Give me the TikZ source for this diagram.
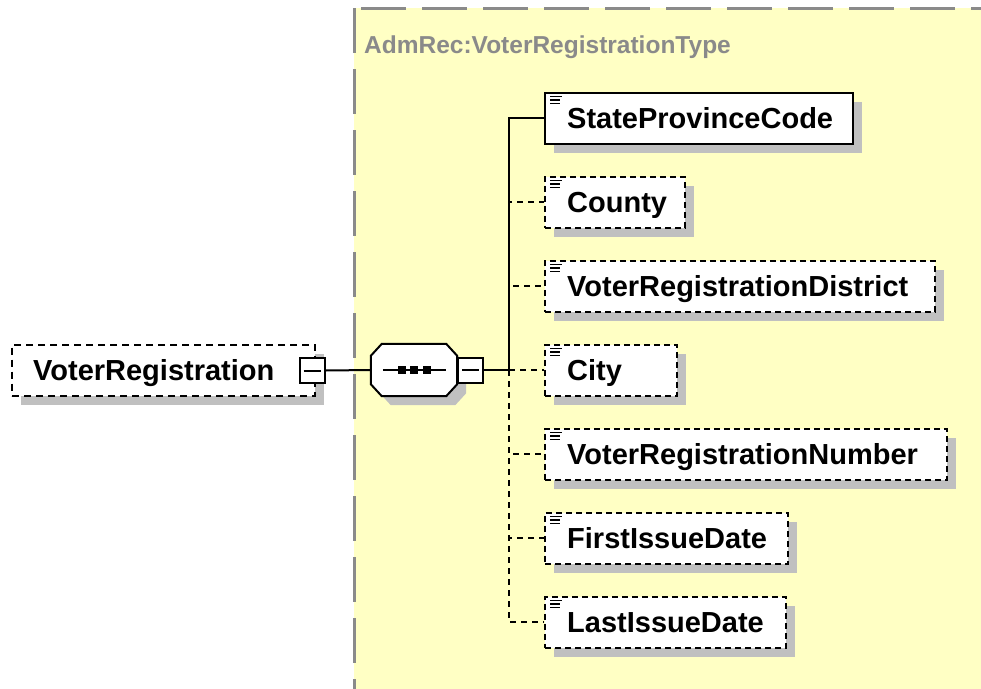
\documentclass[tikz,border=0pt]{standalone}
\usepackage{fontspec}
\setmainfont{Liberation Sans}
\usetikzlibrary{shadows}
\definecolor{bgyellow}{RGB}{255,255,196}
\definecolor{framegray}{RGB}{138,138,138}
\definecolor{shadowgray}{RGB}{192,192,192}
\begin{document}
\begin{tikzpicture}[x=1pt,y=-1pt,
  shad/.style={drop shadow={shadow xshift=9pt,shadow yshift=-9pt,fill=shadowgray,opacity=1}},
  elbox/.style={draw=black,line width=2pt,fill=white,inner sep=0pt,minimum height=51pt,shad},
  optbox/.style={elbox,dash pattern=on 6pt off 4pt},
  lbl/.style={anchor=base west,inner sep=0pt,font=\bfseries\fontsize{29}{32}\selectfont},
  btn/.style={draw=black,line width=2pt,fill=white,inner sep=0pt,minimum width=25pt,minimum height=25pt},
  conn/.style={draw=black,line width=2pt},
  optconn/.style={conn,dash pattern=on 6pt off 5pt},
  icon/.style={line width=1.8pt}
]
\useasboundingbox (0,0) rectangle (981,688);
\clip (0,0) rectangle (981,688);
\fill[white] (0,0) rectangle (981,688);
% type frame
\draw[framegray,line width=3pt,dash pattern=on 45pt off 16pt,fill=bgyellow] (354,8) rectangle (1020,710);
\node[anchor=base west,inner sep=0pt,text=framegray,font=\bfseries\fontsize{24.5}{28}\selectfont] (title) at (364,53) {AdmRec:VoterRegistrationType};

% root element
\node[elbox,dash pattern=on 7pt off 5pt,minimum width=303pt] (vr) at (163.5,370) {};
\node[lbl] (vrT) at (33,380) {VoterRegistration};
\node[btn] (vrbtn) at (312,370.5) {};
\draw[line width=2pt] ([xshift=5]vrbtn.west) -- ([xshift=-5]vrbtn.east);

% sequence compositor (octagon drawn on an invisible node frame)
\node[inner sep=0pt,minimum width=86pt,minimum height=52pt] (seq) at (414,370) {};
\fill[shadowgray]
  ([shift={(20,9)}]seq.north west) -- ([shift={(-2,9)}]seq.north east) -- ([shift={(9,21)}]seq.north east)
  -- ([shift={(9,-3)}]seq.south east) -- ([shift={(-2,9)}]seq.south east) -- ([shift={(20,9)}]seq.south west)
  -- ([shift={(9,-3)}]seq.south west) -- ([shift={(9,21)}]seq.north west) -- cycle;
\draw[line width=2pt,fill=white]
  ([shift={(11,0)}]seq.north west) -- ([shift={(-11,0)}]seq.north east) -- ([shift={(0,12)}]seq.north east)
  -- ([shift={(0,-12)}]seq.south east) -- ([shift={(-11,0)}]seq.south east) -- ([shift={(11,0)}]seq.south west)
  -- ([shift={(0,-12)}]seq.south west) -- ([shift={(0,12)}]seq.north west) -- cycle;
\draw[line width=2pt] ([xshift=12]seq.west) -- ([xshift=-11]seq.east);
\foreach \dx in {-12,0,13}{
  \fill ([shift={(\dx-4,-4)}]seq.center) rectangle ([shift={(\dx+4,4)}]seq.center);
}
\node[btn] (seqbtn) at (470.5,370) {};
\draw[line width=2pt] ([xshift=5]seqbtn.west) -- ([xshift=-5]seqbtn.east);
\coordinate (junc) at (509,370);

% children
\node[elbox,minimum width=308pt] (spc) at (699,118) {};
\node[optbox,minimum width=140pt] (county) at (615,202) {};
\node[optbox,minimum width=390pt] (vrd) at (740,286) {};
\node[optbox,minimum width=132pt] (city) at (611,370) {};
\node[optbox,minimum width=402pt] (vrn) at (746,454) {};
\node[optbox,minimum width=243pt] (fid) at (666.5,538) {};
\node[optbox,minimum width=241pt] (lid) at (665.5,622) {};

\foreach \n/\t in {spc/StateProvinceCode,county/County,vrd/VoterRegistrationDistrict,city/City,vrn/VoterRegistrationNumber,fid/FirstIssueDate,lid/LastIssueDate}{
  \node[lbl] (\n T) at ([shift={(23,10)}]\n.west) {\t};
  \draw[icon] ([shift={(6,5)}]\n.north west) -- ([shift={(18,5)}]\n.north west);
  \draw[icon] ([shift={(6,8.5)}]\n.north west) -- ([shift={(16,8.5)}]\n.north west);
  \draw[icon] ([shift={(6,12)}]\n.north west) -- ([shift={(16,12)}]\n.north west);
}

% connectors
\draw[conn] (vrbtn.east) -- (seq.west);
\draw[conn] (seqbtn.east) -- (junc);
\draw[conn] (junc) |- (spc.west);
\foreach \n in {county,vrd}{
  \draw[optconn] (junc) |- (\n.west);
}
\draw[optconn] (junc) -- (city.west);
\foreach \n in {vrn,fid,lid}{
  \draw[optconn] (junc) |- (\n.west);
}
\end{tikzpicture}
\end{document}
